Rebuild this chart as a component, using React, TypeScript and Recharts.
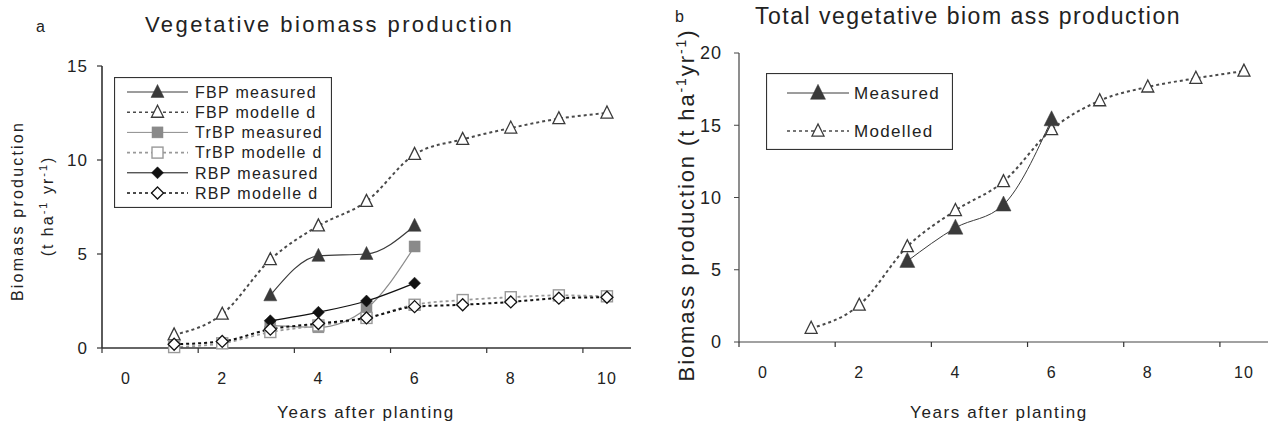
import React from 'react';
import { LineChart, Line, XAxis, YAxis, Legend } from 'recharts';

// years after planting (x positions of the points)
const years = [1, 2, 3, 4, 5, 6, 7, 8, 9, 10];

// panel a, t ha-1 yr-1
const fbpMeasured = [null, null, 2.8, 4.9, 5.0, 6.5, null, null, null, null];
const fbpModelled = [0.7, 1.8, 4.7, 6.5, 7.8, 10.3, 11.1, 11.7, 12.2, 12.5];
const trbpMeasured = [null, null, 1.2, 1.1, 2.1, 5.4, null, null, null, null];
const trbpModelled = [0.05, 0.25, 0.85, 1.2, 1.6, 2.3, 2.55, 2.7, 2.8, 2.75];
const rbpMeasured = [null, null, 1.45, 1.9, 2.5, 3.45, null, null, null, null];
const rbpModelled = [0.2, 0.35, 1.0, 1.3, 1.6, 2.2, 2.3, 2.45, 2.65, 2.7];

// panel b
const totalMeasured = [null, null, 5.6, 7.9, 9.5, 15.4, null, null, null, null];
const totalModelled = [0.95, 2.55, 6.6, 9.1, 11.1, 14.7, 16.7, 17.65, 18.25, 18.75];

// x axis: labels on even years, tick marks half way between
const xLabels = [0, 2, 4, 6, 8, 10];
const xTickMarks = [-0.5, 1.5, 3.5, 5.5, 7.5, 9.5];
const yTicksA = [0, 5, 10, 15];
const yTicksB = [0, 5, 10, 15, 20];

const dataA = years.map((year, i) => ({
  year,
  fbpMeasured: fbpMeasured[i],
  fbpModelled: fbpModelled[i],
  trbpMeasured: trbpMeasured[i],
  trbpModelled: trbpModelled[i],
  rbpMeasured: rbpMeasured[i],
  rbpModelled: rbpModelled[i],
}));

const dataB = years.map((year, i) => ({
  year,
  measured: totalMeasured[i],
  modelled: totalModelled[i],
}));

const FONT = '"Liberation Sans", Arial, sans-serif';
const TXT = '#222';

type MarkerKind = 'triangle' | 'square' | 'diamond';

const Marker = ({ kind, cx, cy, size, fill, stroke, sw }: any) => {
  const s = size;
  if (kind === 'triangle') {
    const pts = `${cx},${cy - s * 0.58} ${cx - s / 2},${cy + s * 0.42} ${cx + s / 2},${cy + s * 0.42}`;
    return <polygon points={pts} fill={fill} stroke={stroke} strokeWidth={sw} />;
  }
  if (kind === 'square') {
    return <rect x={cx - s / 2} y={cy - s / 2} width={s} height={s} fill={fill} stroke={stroke} strokeWidth={sw} />;
  }
  const pts = `${cx},${cy - s / 2} ${cx + s / 2},${cy} ${cx},${cy + s / 2} ${cx - s / 2},${cy}`;
  return <polygon points={pts} fill={fill} stroke={stroke} strokeWidth={sw} />;
};

const dotFor = (kind: MarkerKind, size: number, fill: string, stroke: string, sw: number) => (p: any) => {
  if (p.value == null || p.cy == null) return <g key={p.index} />;
  return (
    <g key={p.index}>
      <Marker kind={kind} cx={p.cx} cy={p.cy} size={size} fill={fill} stroke={stroke} sw={sw} />
    </g>
  );
};

// series styles, panel a
const seriesA = [
  { key: 'fbpModelled', name: 'FBP modelle d', color: '#4a4a4a', width: 2, dash: '3 3', kind: 'triangle' as MarkerKind, size: 12, fill: '#fff', mstroke: '#3a3a3a', msw: 1.3 },
  { key: 'fbpMeasured', name: 'FBP measured', color: '#3a3a3a', width: 1.2, dash: undefined, kind: 'triangle' as MarkerKind, size: 13, fill: '#3a3a3a', mstroke: '#3a3a3a', msw: 0.5 },
  { key: 'trbpMeasured', name: 'TrBP measured', color: '#8c8c8c', width: 1.2, dash: undefined, kind: 'square' as MarkerKind, size: 11, fill: '#8a8a8a', mstroke: '#8a8a8a', msw: 0.5 },
  { key: 'trbpModelled', name: 'TrBP modelle d', color: '#999', width: 1.8, dash: '3 3', kind: 'square' as MarkerKind, size: 11, fill: '#fff', mstroke: '#999', msw: 1.4 },
  { key: 'rbpMeasured', name: 'RBP measured', color: '#111', width: 1.3, dash: undefined, kind: 'diamond' as MarkerKind, size: 12, fill: '#111', mstroke: '#111', msw: 0.5 },
  { key: 'rbpModelled', name: 'RBP modelle d', color: '#111', width: 2, dash: '3 3', kind: 'diamond' as MarkerKind, size: 12, fill: '#fff', mstroke: '#111', msw: 1.3 },
];
const legendOrderA = ['fbpMeasured', 'fbpModelled', 'trbpMeasured', 'trbpModelled', 'rbpMeasured', 'rbpModelled'];

const seriesB = [
  { key: 'modelled', name: 'Modelled', color: '#4a4a4a', width: 2, dash: '3 3', kind: 'triangle' as MarkerKind, size: 12, fill: '#fff', mstroke: '#3a3a3a', msw: 1.3 },
  { key: 'measured', name: 'Measured', color: '#3a3a3a', width: 1, dash: undefined, kind: 'triangle' as MarkerKind, size: 15, fill: '#3a3a3a', mstroke: '#3a3a3a', msw: 0.5 },
];
const legendOrderB = ['measured', 'modelled'];

const XTick = ({ x, y, payload }: any) => {
  const v = payload.value;
  if (xTickMarks.includes(v)) {
    return <line x1={x} x2={x} y1={y} y2={y + 5} stroke="#333" strokeWidth={1.2} />;
  }
  return (
    <text x={x} y={y + 36} textAnchor="middle" fontSize={16} fill={TXT} style={{ letterSpacing: 1 }}>
      {v}
    </text>
  );
};

const LegendBox = ({ series, order, w, h, rowY, lineX1, lineX2, textX, fontSize }: any) => (
  <svg width={w} height={h} style={{ display: 'block' }}>
    <rect x={0.5} y={0.5} width={w - 1} height={h - 1} fill="#fff" stroke="#333" strokeWidth={1.2} />
    {order.map((k: string, i: number) => {
      const s = series.find((d: any) => d.key === k);
      const y = rowY[0] + i * (rowY[1] - rowY[0]);
      const cx = (lineX1 + lineX2) / 2;
      return (
        <g key={k}>
          <line x1={lineX1} x2={lineX2} y1={y} y2={y} stroke={s.color} strokeWidth={s.dash ? 1.6 : 1} strokeDasharray={s.dash} />
          <Marker kind={s.kind} cx={cx} cy={y} size={s.size} fill={s.fill} stroke={s.mstroke} sw={s.msw} />
          <text x={textX} y={y + fontSize * 0.36} fontSize={fontSize} fill={TXT} style={{ letterSpacing: 1.3 }}>
            {s.name}
          </text>
        </g>
      );
    })}
  </svg>
);

const xTicks = [...xTickMarks, ...xLabels].sort((a, b) => a - b);

export default function App() {
  return (
    <div style={{ position: 'absolute', left: 0, top: 0, width: 1273, height: 428, background: '#fff', fontFamily: FONT }}>
      {/* panel a */}
      <div style={{ position: 'absolute', left: 0, top: 0 }}>
        <LineChart width={640} height={428} data={dataA} margin={{ top: 66, right: 9, bottom: 50, left: 42 }}>
          <XAxis
            dataKey="year"
            type="number"
            domain={[-0.5, 10.5]}
            ticks={xTicks}
            interval={0}
            tick={<XTick />}
            tickLine={false}
            tickSize={0}
            tickMargin={0}
            height={30}
            axisLine={{ stroke: '#333', strokeWidth: 1.6 }}
          />
          <YAxis
            type="number"
            domain={[0, 15]}
            ticks={yTicksA}
            width={60}
            tickSize={5}
            tickMargin={9}
            axisLine={{ stroke: '#333', strokeWidth: 1.6 }}
            tickLine={{ stroke: '#333', strokeWidth: 1.2 }}
            tick={{ fontSize: 17, fill: TXT, letterSpacing: 1 }}
          />
          {seriesA.map((s) => (
            <Line
              key={s.key}
              dataKey={s.key}
              name={s.name}
              type="monotone"
              stroke={s.color}
              strokeWidth={s.width}
              strokeDasharray={s.dash}
              dot={dotFor(s.kind, s.size, s.fill, s.mstroke, s.msw)}
              activeDot={false}
              connectNulls={false}
              isAnimationActive={false}
            />
          ))}
          <Legend
            layout="vertical"
            align="center"
            verticalAlign="middle"
            wrapperStyle={{ left: 114, top: 77, width: 218, height: 131 }}
            content={() => (
              <LegendBox series={seriesA} order={legendOrderA} w={218} h={131} rowY={[15, 35.2]} lineX1={13} lineX2={74} textX={81} fontSize={16} />
            )}
          />
        </LineChart>
      </div>

      {/* panel b */}
      <div style={{ position: 'absolute', left: 640, top: 0 }}>
        <LineChart width={633} height={428} data={dataB} margin={{ top: 53, right: 5, bottom: 56, left: 39 }}>
          <XAxis
            dataKey="year"
            type="number"
            domain={[-0.5, 10.5]}
            ticks={xTicks}
            interval={0}
            tick={<XTick />}
            tickLine={false}
            tickSize={0}
            tickMargin={0}
            height={30}
            axisLine={{ stroke: '#444', strokeWidth: 1.2 }}
          />
          <YAxis
            type="number"
            domain={[0, 20]}
            ticks={yTicksB}
            width={60}
            tickSize={5}
            tickMargin={12}
            axisLine={{ stroke: '#444', strokeWidth: 1.2 }}
            tickLine={{ stroke: '#444', strokeWidth: 1 }}
            tick={{ fontSize: 18, fill: TXT, letterSpacing: 1 }}
          />
          {seriesB.map((s) => (
            <Line
              key={s.key}
              dataKey={s.key}
              name={s.name}
              type="monotone"
              stroke={s.color}
              strokeWidth={s.width}
              strokeDasharray={s.dash}
              dot={dotFor(s.kind, s.size, s.fill, s.mstroke, s.msw)}
              activeDot={false}
              connectNulls={false}
              isAnimationActive={false}
            />
          ))}
          <Legend
            layout="vertical"
            align="center"
            verticalAlign="middle"
            wrapperStyle={{ left: 126, top: 73, width: 187, height: 77 }}
            content={() => (
              <LegendBox series={seriesB} order={legendOrderB} w={187} h={77} rowY={[20, 58]} lineX1={21} lineX2={83} textX={88} fontSize={17} />
            )}
          />
        </LineChart>
      </div>

      {/* titles and axis titles */}
      <svg width={1273} height={428} style={{ position: 'absolute', left: 0, top: 0, pointerEvents: 'none' }}>
        <text x={36} y={32} fontSize={16} fill={TXT}>a</text>
        <text x={145} y={32} fontSize={22} fill={TXT} style={{ letterSpacing: 2.4 }}>Vegetative biomass production</text>
        <text x={23} y={211} transform="rotate(-90 23 211)" textAnchor="middle" fontSize={16} fill={TXT} style={{ letterSpacing: 2.2 }}>
          Biomass production
        </text>
        <text x={53} y={206} transform="rotate(-90 53 206)" textAnchor="middle" fontSize={16} fill={TXT} style={{ letterSpacing: 2 }}>
          (t ha<tspan fontSize={11} dy={-6}>-1</tspan>
          <tspan dy={6}> yr</tspan>
          <tspan fontSize={11} dy={-6}>-1</tspan>
          <tspan dy={6}>)</tspan>
        </text>
        <text x={366} y={418} textAnchor="middle" fontSize={17} fill={TXT} style={{ letterSpacing: 1.6 }}>Years after planting</text>

        <text x={675} y={22} fontSize={16} fill={TXT}>b</text>
        <text x={755} y={24} fontSize={23} fill={TXT} style={{ letterSpacing: 1.5 }}>Total vegetative biom ass production</text>
        <text x={694} y={205} transform="rotate(-90 694 205)" textAnchor="middle" fontSize={22} fill={TXT} style={{ letterSpacing: 1.9 }}>
          Biomass production (t ha<tspan fontSize={14} dy={-8}>-1</tspan>
          <tspan dy={8}>yr</tspan>
          <tspan fontSize={14} dy={-8}>-1</tspan>
          <tspan dy={8}>)</tspan>
        </text>
        <text x={999} y={418} textAnchor="middle" fontSize={17} fill={TXT} style={{ letterSpacing: 1.6 }}>Years after planting</text>
      </svg>
    </div>
  );
}
